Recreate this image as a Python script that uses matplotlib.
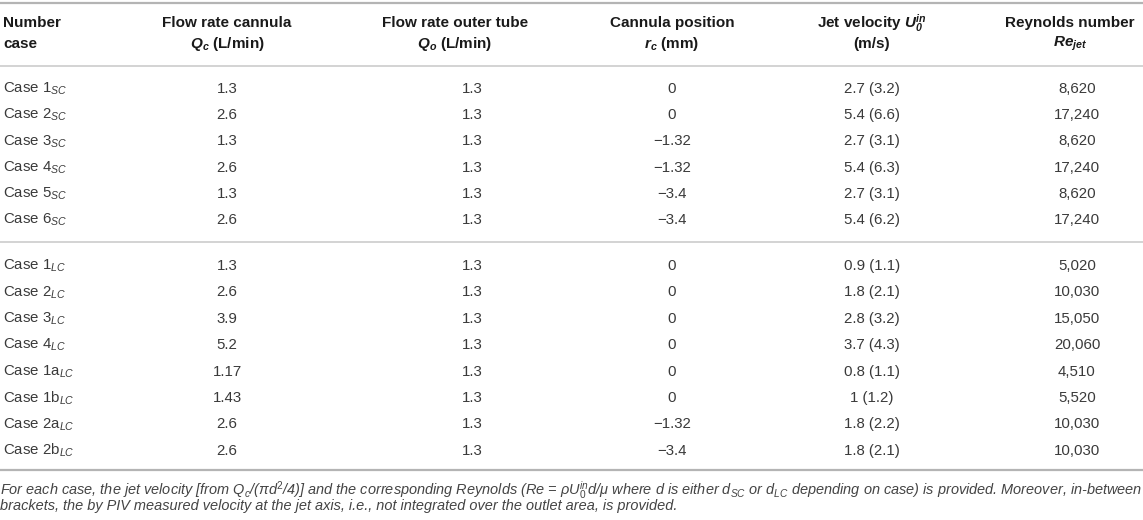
import matplotlib
matplotlib.use('Agg')
import matplotlib.pyplot as plt

plt.rcParams['font.family'] = ['Liberation Sans', 'DejaVu Sans']
plt.rcParams['mathtext.fontset'] = 'custom'
plt.rcParams['mathtext.rm'] = 'Liberation Sans'
plt.rcParams['mathtext.it'] = 'Liberation Sans:italic'
plt.rcParams['mathtext.bf'] = 'Liberation Sans:italic:bold'

# table data
header_1 = ['Number', 'Flow rate cannula', 'Flow rate outer tube', 'Cannula position',
            'Jet velocity $\\mathbf{U_0^{in}}$', 'Reynolds number']
header_2 = ['case', '$\\mathbf{Q_c}$ (L/min)', '$\\mathbf{Q_o}$ (L/min)', '$\\mathbf{r_c}$ (mm)',
            '(m/s)', '$\\mathbf{Re_{jet}}$']

cases_sc = ['1', '2', '3', '4', '5', '6']
qc_sc = [1.3, 2.6, 1.3, 2.6, 1.3, 2.6]
qo_sc = [1.3, 1.3, 1.3, 1.3, 1.3, 1.3]
rc_sc = [0, 0, -1.32, -1.32, -3.4, -3.4]
u0_sc = [2.7, 5.4, 2.7, 5.4, 2.7, 5.4]
u0piv_sc = [3.2, 6.6, 3.1, 6.3, 3.1, 6.2]
re_sc = [8620, 17240, 8620, 17240, 8620, 17240]

cases_lc = ['1', '2', '3', '4', '1a', '1b', '2a', '2b']
qc_lc = [1.3, 2.6, 3.9, 5.2, 1.17, 1.43, 2.6, 2.6]
qo_lc = [1.3, 1.3, 1.3, 1.3, 1.3, 1.3, 1.3, 1.3]
rc_lc = [0, 0, 0, 0, 0, 0, -1.32, -3.4]
u0_lc = [0.9, 1.8, 2.8, 3.7, 0.8, 1, 1.8, 1.8]
u0piv_lc = [1.1, 2.1, 3.2, 4.3, 1.1, 1.2, 2.2, 2.1]
re_lc = [5020, 10030, 15050, 20060, 4510, 5520, 10030, 10030]

footnote_1 = ('For each case, the jet velocity [from Q$_c$/($\\pi$d$^2$/4)] and the corresponding Reynolds '
              '(Re = $\\rho$U$_0^{in}$d/$\\mu$ where d is either d$_{SC}$ or d$_{LC}$ depending on case) '
              'is provided. Moreover, in-between')
footnote_2 = ('brackets, the by PIV measured velocity at the jet axis, i.e., not integrated over the '
              'outlet area, is provided.')


def fmt_num(v):
    s = '%g' % v
    return s.replace('-', '\u2212')


fig = plt.figure(figsize=(11.43, 5.2), dpi=100)
ax = fig.add_axes([0, 0, 1, 1])
ax.set_xlim(0, 1143)
ax.set_ylim(520, 0)
ax.axis('off')

col_x = [3, 227, 472, 672, 872, 1077]
head_x = [3, 227, 455, 672, 872, 1070]
head_col = '#1a1a1a'
data_col = '#3a3a3a'

# header
for i in range(6):
    ha = 'left' if i == 0 else 'center'
    ax.text(head_x[i], 23, header_1[i], ha=ha, va='center', fontsize=11.0, fontweight='bold', color=head_col)
    ax.text(head_x[i], 44, header_2[i], ha=ha, va='center', fontsize=11.0, fontweight='bold', color=head_col)

# rules
ax.plot([0, 1143], [3, 3], color='#b4b4b4', lw=1.6, solid_capstyle='butt')
ax.plot([0, 1143], [66, 66], color='#c8c8c8', lw=1.1, solid_capstyle='butt')
ax.plot([0, 1143], [242, 242], color='#c8c8c8', lw=1.1, solid_capstyle='butt')
ax.plot([0, 1143], [470, 470], color='#b4b4b4', lw=1.6, solid_capstyle='butt')


def draw_rows(y0, step, cases, sub, qc, qo, rc, u0, u0piv, re):
    for k in range(len(cases)):
        y = y0 + step * k
        vals = ['Case ' + cases[k] + '$_{' + sub + '}$', fmt_num(qc[k]), fmt_num(qo[k]),
                fmt_num(rc[k]), fmt_num(u0[k]) + ' (' + fmt_num(u0piv[k]) + ')', '{:,}'.format(re[k])]
        for i in range(6):
            ha = 'left' if i == 0 else 'center'
            ax.text(col_x[i], y, vals[i], ha=ha, va='center', fontsize=10.8, color=data_col)


draw_rows(89, 26.2, cases_sc, 'SC', qc_sc, qo_sc, rc_sc, u0_sc, u0piv_sc, re_sc)
draw_rows(266, 26.4, cases_lc, 'LC', qc_lc, qo_lc, rc_lc, u0_lc, u0piv_lc, re_lc)

# footnote
ax.text(0, 490, footnote_1, ha='left', va='center', fontsize=10.45, style='italic', color='#444444')
ax.text(0, 506, footnote_2, ha='left', va='center', fontsize=10.45, style='italic', color='#444444')

fig.savefig('out.png', dpi=100)
